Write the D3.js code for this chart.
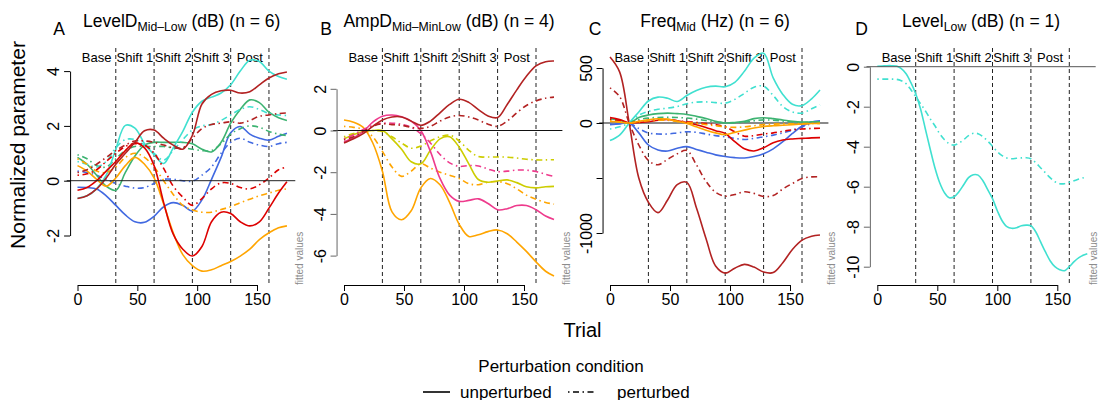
<!DOCTYPE html>
<html>
<head>
<meta charset="utf-8">
<script src="https://cdn.jsdelivr.net/npm/d3@7/dist/d3.min.js"></script>
<style>
  html,body{margin:0;padding:0;background:#fff;}
  svg{display:block;}
  text{font-family:"Liberation Sans", Arial, Helvetica, sans-serif;}
</style>
</head>
<body>
<svg id="chart" width="1098" height="400"></svg>
<script>
// ---------------- data ----------------
const trials  = [0,8,16,24,32,40,48,56,64,72,80,88,96,104,112,120,128,136,144,152,160,168,175];
const trialsD = [0,4,8,12,16,20,24,28,32,36,40,44,48,52,56,60,64,68,72,76,80,84,88,92,96,100,104,108,112,116,120,124,128,132,136,140,144,148,152,156,160,164,168,172,175];

const phaseNames  = ["Base","Shift 1","Shift 2","Shift 3","Post"];
const phaseStarts = [0,32,64,96,128];
const phaseBounds = [32,64,96,128,160];

const xTicks  = [0,50,100,150];
const yTicksA = [-2,0,2,4];
const yTicksB = [-6,-4,-2,0,2];
const yTicksC = [-1000,-500,0,500];
const yLabelsC = ["-1000","","0","500"];
const yTicksD = [-10,-8,-6,-4,-2,0];

const titleMain = ["LevelD","AmpD","Freq","Level"];
const titleSub  = ["Mid\u2013Low","Mid\u2013MinLow","Mid","Low"];
const titleUnit = [" (dB)"," (dB)"," (Hz)"," (dB)"];
const nSubjects = [6,4,6,1];
const panelLetters = ["A","B","C","D"];

const legendTitle = "Perturbation condition";
const legendLabels = ["unperturbed","perturbed"];

// Panel A: LevelD Mid-Low (dB)
const A_turq_s   = [-0.64,-0.55,-0.3,0.2,1.15,2.02,1.92,1.35,0.95,0.63,1.2,1.8,2.5,2.9,3.05,3.2,3.5,4.0,4.4,4.35,4.0,3.8,3.7];
const A_turq_d   = [0.7,0.6,0.5,0.7,1.2,1.5,1.5,1.3,1.0,0.75,1.1,1.5,1.85,2.0,2.05,2.2,2.4,2.6,2.7,2.6,2.45,2.4,2.38];
const A_brown_s  = [-0.65,-0.55,-0.3,0.1,0.6,1.0,1.4,1.82,1.85,1.55,1.3,1.15,1.65,2.8,3.15,3.28,3.3,3.2,3.25,3.5,3.75,3.9,3.97];
const A_brown_d  = [0.3,0.4,0.6,0.85,1.1,1.3,1.45,1.45,1.4,1.3,1.2,1.2,1.55,1.9,2.05,2.1,2.15,2.1,2.2,2.35,2.4,2.45,2.47];
const A_green_s  = [0.85,0.6,0.2,-0.2,-0.35,0.3,0.9,1.3,1.4,1.4,1.4,1.4,1.35,1.15,1.05,1.4,2.1,2.6,2.95,2.85,2.5,2.3,2.2];
const A_green_d  = [0.95,0.8,0.55,0.5,0.8,1.1,1.25,1.25,1.25,1.25,1.2,1.2,1.15,1.1,1.1,1.35,1.7,1.9,2.0,1.95,1.8,1.7,1.65];
const A_blue_s   = [-0.24,-0.25,-0.3,-0.55,-0.9,-1.25,-1.5,-1.52,-1.3,-0.95,-0.8,-0.9,-1.1,-0.7,0.05,0.85,1.75,1.98,1.7,1.55,1.48,1.62,1.73];
const A_blue_d   = [0.35,0.3,0.2,0.05,-0.1,-0.2,-0.27,-0.25,-0.1,0.05,0.05,0.0,-0.02,0.2,0.5,1.0,1.4,1.55,1.4,1.3,1.25,1.35,1.4];
const A_red_s    = [-0.35,-0.25,0.0,0.35,0.7,1.1,1.38,1.2,0.55,-0.8,-1.95,-2.5,-2.75,-2.4,-1.5,-1.15,-1.2,-1.5,-1.65,-1.5,-1.0,-0.45,-0.04];
const A_red_d    = [0.2,0.25,0.4,0.7,1.0,1.25,1.35,1.3,1.0,0.45,-0.2,-0.6,-0.9,-0.65,-0.3,-0.08,-0.1,-0.25,-0.3,-0.15,0.1,0.4,0.5];
const A_orange_s = [0.55,0.35,0.05,-0.2,0.1,0.55,0.85,0.6,0.1,-0.85,-1.9,-2.7,-3.1,-3.3,-3.25,-3.1,-2.95,-2.75,-2.5,-2.15,-1.9,-1.72,-1.65];
const A_orange_d = [0.8,0.6,0.35,0.3,0.5,0.85,1.0,0.85,0.5,0.0,-0.5,-0.9,-1.07,-1.15,-1.15,-1.05,-0.95,-0.8,-0.68,-0.55,-0.45,-0.35,-0.3];

// Panel B: AmpD Mid-MinLow (dB)
const B_brown_s  = [-0.6,-0.4,-0.15,0.2,0.5,0.65,0.65,0.45,0.25,0.45,0.85,1.25,1.5,1.35,1.0,0.7,0.62,1.25,1.95,2.6,3.1,3.3,3.33];
const B_brown_d  = [-0.45,-0.3,-0.05,0.2,0.32,0.28,0.25,0.15,0.1,0.2,0.45,0.65,0.72,0.65,0.5,0.3,0.2,0.45,0.85,1.2,1.42,1.55,1.6];
const B_pink_s   = [-0.55,-0.35,-0.05,0.4,0.68,0.74,0.66,0.45,0.0,-1.0,-2.3,-3.1,-3.4,-3.35,-3.28,-3.5,-3.8,-3.75,-3.6,-3.6,-3.8,-4.1,-4.27];
const B_pink_d   = [-0.4,-0.2,0.05,0.25,0.35,0.35,0.3,0.15,-0.15,-0.6,-1.15,-1.55,-1.72,-1.68,-1.7,-1.85,-1.97,-1.95,-1.9,-1.9,-1.97,-2.1,-2.2];
const B_yellow_s = [-0.4,-0.2,-0.05,0.0,0.0,-0.4,-0.9,-1.5,-1.6,-0.95,-0.4,-0.3,-0.8,-1.6,-2.35,-2.48,-2.42,-2.37,-2.5,-2.7,-2.75,-2.7,-2.68];
const B_yellow_d = [-0.3,-0.15,-0.05,0.0,-0.05,-0.3,-0.6,-0.85,-0.75,-0.5,-0.3,-0.22,-0.5,-0.95,-1.25,-1.27,-1.27,-1.28,-1.32,-1.38,-1.41,-1.41,-1.4];
const B_orange_s = [0.5,0.4,0.15,-0.6,-1.95,-3.9,-4.28,-3.85,-2.75,-2.3,-2.6,-3.45,-4.5,-5.08,-5.0,-4.85,-4.77,-4.95,-5.35,-5.8,-6.3,-6.75,-6.98];
const B_orange_d = [0.2,0.15,0.05,-0.3,-1.0,-1.75,-2.2,-1.95,-1.6,-1.8,-2.0,-2.15,-2.3,-2.55,-2.6,-2.48,-2.45,-2.55,-2.8,-3.1,-3.3,-3.45,-3.53];

// Panel C: Freq Mid (Hz)
const C_turq_s   = [-160,-110,0,100,200,235,225,195,250,295,325,335,330,370,470,590,635,410,260,170,158,220,300];
const C_turq_d   = [-55,-35,0,70,105,125,135,150,175,190,192,185,180,215,270,325,335,250,150,100,90,130,165];
const C_brown_s  = [600,465,0,-500,-720,-815,-700,-560,-540,-770,-1050,-1300,-1365,-1320,-1285,-1310,-1355,-1360,-1270,-1150,-1065,-1030,-1018];
const C_brown_d  = [320,240,0,-200,-340,-380,-330,-280,-250,-380,-530,-630,-665,-650,-625,-640,-668,-660,-600,-550,-505,-490,-488];
const C_green_s  = [40,25,0,50,72,85,90,85,78,60,40,15,0,5,15,40,48,40,28,15,8,10,12];
const C_green_d  = [30,20,0,30,45,50,52,50,45,35,22,10,0,2,8,20,28,25,18,10,5,8,10];
const C_blue_s   = [-15,-8,0,-90,-200,-245,-255,-230,-215,-240,-265,-290,-305,-315,-318,-305,-280,-235,-170,-95,-30,10,20];
const C_blue_d   = [-10,-5,0,-50,-90,-100,-100,-90,-80,-85,-100,-115,-125,-140,-150,-140,-125,-110,-90,-65,-35,-5,12];
const C_red_s    = [50,32,0,5,12,25,32,20,5,-15,-40,-70,-95,-170,-235,-255,-225,-180,-155,-145,-140,-135,-133];
const C_red_d    = [35,22,0,15,25,30,30,20,12,5,-5,-15,-35,-80,-120,-115,-100,-90,-75,-62,-55,-50,-48];
const C_orange_s = [15,8,0,15,30,38,35,15,-5,-35,-65,-90,-105,-85,-65,-45,-32,-25,-20,-15,-10,-5,-3];
const C_orange_d = [20,10,0,10,20,25,25,15,5,-5,-15,-25,-35,-40,-35,-25,-15,-10,-8,-8,-5,-5,-5];

// Panel D: Level Low (dB)
const D_turq_s = [0.02,0.03,0.05,0.05,0.03,-0.1,-0.35,-0.8,-1.35,-2.1,-3.1,-4.1,-5.05,-5.8,-6.3,-6.55,-6.5,-6.25,-5.9,-5.55,-5.4,-5.42,-5.7,-6.15,-6.6,-7.2,-7.7,-8.0,-8.08,-8.05,-7.95,-7.92,-7.95,-8.25,-8.75,-9.25,-9.7,-10.0,-10.15,-10.2,-10.0,-9.75,-9.55,-9.42,-9.35];
const D_turq_d = [-0.62,-0.62,-0.62,-0.62,-0.63,-0.7,-0.85,-1.15,-1.5,-1.85,-2.2,-2.6,-2.95,-3.35,-3.65,-3.85,-3.92,-3.82,-3.65,-3.45,-3.33,-3.35,-3.5,-3.72,-3.98,-4.25,-4.45,-4.57,-4.6,-4.58,-4.56,-4.55,-4.6,-4.8,-5.05,-5.3,-5.55,-5.75,-5.85,-5.85,-5.78,-5.7,-5.62,-5.55,-5.5];

// ---------------- styles ----------------
const COL = {turq:"#40E0D0", brown:"#B22222", green:"#3CB371", blue:"#4169E1",
             red:"#DD0000", orange:"#FFA500", pink:"#EE3A8C", yellow:"#CDCD00"};
const DASHDOT = "1.5,3.5,6,3.5";
const S = (values, color, dashed) => ({values, color, dashed});

const panels = [
  { xr:[77.5,257], yd:[-2,4], yr:[235.5,71.1], yTicks:yTicksA, yLabels:yTicksA.map(String), t:trials,
    zeroColor:"#222", zeroW:1, zeroFirst:false, axisColor:"#000", titleX:181.7, letterX:59.2, fvX:302.5,
    series:[S(A_blue_s,COL.blue,false),S(A_blue_d,COL.blue,true),S(A_green_s,COL.green,false),S(A_green_d,COL.green,true),
            S(A_turq_s,COL.turq,false),S(A_turq_d,COL.turq,true),S(A_orange_s,COL.orange,false),S(A_orange_d,COL.orange,true),
            S(A_red_s,COL.red,false),S(A_red_d,COL.red,true),S(A_brown_s,COL.brown,false),S(A_brown_d,COL.brown,true)] },
  { xr:[344,524], yd:[-6,2], yr:[255.6,88.8], yTicks:yTicksB, yLabels:yTicksB.map(String), t:trials,
    zeroColor:"#111", zeroW:1, zeroFirst:false, axisColor:"#666", titleX:449, letterX:326, fvX:569.5,
    series:[S(B_orange_s,COL.orange,false),S(B_orange_d,COL.orange,true),S(B_yellow_s,COL.yellow,false),S(B_yellow_d,COL.yellow,true),
            S(B_pink_s,COL.pink,false),S(B_pink_d,COL.pink,true),S(B_brown_s,COL.brown,false),S(B_brown_d,COL.brown,true)] },
  { xr:[610,790], yd:[-1000,500], yr:[233,68], yTicks:yTicksC, yLabels:yLabelsC, t:trials,
    zeroColor:"#8a8a8a", zeroW:2, zeroFirst:true, axisColor:"#000", titleX:715, letterX:595, fvX:835,
    series:[S(C_brown_s,COL.brown,false),S(C_brown_d,COL.brown,true),S(C_turq_s,COL.turq,false),S(C_turq_d,COL.turq,true),
            S(C_blue_s,COL.blue,false),S(C_blue_d,COL.blue,true),S(C_green_s,COL.green,false),S(C_green_d,COL.green,true),
            S(C_red_s,COL.red,false),S(C_red_d,COL.red,true),S(C_orange_s,COL.orange,false),S(C_orange_d,COL.orange,true)] },
  { xr:[877.3,1057.3], yd:[-10,0], yr:[266.7,66.7], yTicks:yTicksD, yLabels:yTicksD.map(String), t:trialsD,
    zeroColor:"#555", zeroW:1, zeroFirst:false, axisColor:"#666", titleX:981, letterX:861.5, fvX:1096.5,
    series:[S(D_turq_s,COL.turq,false),S(D_turq_d,COL.turq,true)] }
];

// ---------------- drawing ----------------
const svg = d3.select("#chart");
const TOP = 48, BOTTOM = 285;

panels.forEach((p, pi) => {
  const x = d3.scaleLinear().domain([0,150]).range(p.xr);
  const y = d3.scaleLinear().domain(p.yd).range(p.yr);
  const g = svg.append("g");

  const drawZero = () => g.append("line")
      .attr("x1", x(-9)).attr("x2", Math.min(x(182), 1096)).attr("y1", y(0)).attr("y2", y(0))
      .attr("stroke", p.zeroColor).attr("stroke-width", p.zeroW);

  if (p.zeroFirst) drawZero();

  // phase boundaries
  g.selectAll(".pb").data(phaseBounds).enter().append("line")
    .attr("x1", d => x(d)).attr("x2", d => x(d)).attr("y1", TOP).attr("y2", BOTTOM)
    .attr("stroke", "#222").attr("stroke-width", 1).attr("stroke-dasharray", "4,3");

  // phase labels
  g.selectAll(".pl").data(phaseNames).enter().append("text")
    .attr("x", (d,i) => x((phaseStarts[i] + phaseBounds[i]) / 2)).attr("y", 61.7)
    .attr("text-anchor", "middle").attr("font-size", 13).attr("fill", "#000").text(d => d);

  // curves
  const line = d3.line().x((d,i) => x(p.t[i])).y(d => y(d)).curve(d3.curveCatmullRom.alpha(0.5));
  g.selectAll(".curve").data(p.series).enter().append("path")
    .attr("d", d => line(d.values)).attr("fill", "none")
    .attr("stroke", d => d.color).attr("stroke-width", 1.6)
    .attr("stroke-dasharray", d => d.dashed ? DASHDOT : null)
    .attr("stroke-linejoin", "round");

  if (!p.zeroFirst) drawZero();

  // x axis
  const xa = g.append("g").attr("transform", `translate(0,${BOTTOM})`)
    .call(d3.axisBottom(x).tickValues(xTicks).tickSize(6).tickSizeOuter(0).tickFormat(d3.format("d")));
  xa.select(".domain").attr("stroke", "#000");
  xa.selectAll(".tick line").attr("stroke", "#000");
  xa.selectAll("text").attr("y", 20).attr("dy", 0).attr("font-size", 16).attr("fill", "#000")
    .style("font-family", '"Liberation Sans", Arial, sans-serif');

  // y axis
  const yAxisX = x(-6.2);
  const ya = g.append("g").attr("transform", `translate(${yAxisX},0)`)
    .call(d3.axisLeft(y).tickValues(p.yTicks).tickSize(6).tickSizeOuter(0)
          .tickFormat((d,i) => p.yLabels[i]));
  ya.select(".domain").attr("stroke", p.axisColor);
  ya.selectAll(".tick line").attr("stroke", p.axisColor);
  ya.selectAll("text").attr("transform", "rotate(-90)").attr("x", 0).attr("y", -11).attr("dy", 0)
    .attr("text-anchor", "middle").attr("font-size", 16).attr("fill", "#000")
    .style("font-family", '"Liberation Sans", Arial, sans-serif');

  // "fitted values"
  g.append("text").attr("transform", `translate(${p.fvX},${BOTTOM}) rotate(-90)`)
    .attr("font-size", 10).attr("fill", "#8c8c8c").text("fitted values");

  // title
  const tt = g.append("text").attr("x", p.titleX).attr("y", 26.7).attr("text-anchor", "middle")
    .attr("font-size", 17.5).attr("fill", "#000").style("white-space", "pre");
  tt.append("tspan").text(titleMain[pi]);
  tt.append("tspan").attr("font-size", 12.25).attr("dy", 3.8).text(titleSub[pi]);
  tt.append("tspan").attr("dy", -3.8).text(`${titleUnit[pi]} (n = ${nSubjects[pi]})`);

  // panel letter
  g.append("text").attr("x", p.letterX).attr("y", 35).attr("text-anchor", "middle")
    .attr("font-size", 17.5).attr("fill", "#000").text(panelLetters[pi]);
});

// shared axis titles
svg.append("text").attr("transform", "translate(25,145) rotate(-90)").attr("text-anchor", "middle")
  .attr("font-size", 21).attr("fill", "#000").text("Normalized parameter");
svg.append("text").attr("x", 582.5).attr("y", 337).attr("text-anchor", "middle")
  .attr("font-size", 20).attr("fill", "#000").text("Trial");

// legend
svg.append("text").attr("x", 561).attr("y", 372).attr("text-anchor", "middle")
  .attr("font-size", 17).attr("fill", "#000").text(legendTitle);
const legendItems = [
  {label: legendLabels[0], x1: 423, x2: 450, tx: 460, dash: null},
  {label: legendLabels[1], x1: 568, x2: 595, tx: 617, dash: DASHDOT}
];
const lg = svg.append("g");
lg.selectAll("line").data(legendItems).enter().append("line")
  .attr("x1", d => d.x1).attr("x2", d => d.x2).attr("y1", 392).attr("y2", 392)
  .attr("stroke", "#000").attr("stroke-width", 1.6).attr("stroke-dasharray", d => d.dash);
lg.selectAll("text").data(legendItems).enter().append("text")
  .attr("x", d => d.tx).attr("y", 397.5).attr("font-size", 17).attr("fill", "#000").text(d => d.label);
</script>
</body>
</html>
